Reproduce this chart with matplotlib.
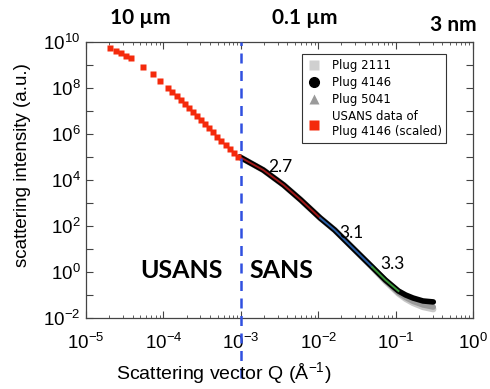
import matplotlib
matplotlib.use("Agg")
import matplotlib.pyplot as plt
from matplotlib.ticker import FixedLocator, LogLocator, FuncFormatter, NullFormatter
from matplotlib.lines import Line2D

plt.rcParams['font.family'] = ['Liberation Sans', 'DejaVu Sans']
plt.rcParams['mathtext.fontset'] = 'custom'
plt.rcParams['mathtext.rm'] = 'Liberation Sans'

# ---- data ----
usans_q = [2.07e-5, 2.41e-5, 2.80e-5, 3.26e-5, 3.79e-5, 5.46e-5, 7.38e-5, 9.14e-5,
           1.16e-4, 1.31e-4, 1.48e-4, 1.67e-4, 1.89e-4, 2.13e-4, 2.41e-4, 2.72e-4,
           3.07e-4, 3.46e-4, 3.91e-4, 4.42e-4, 4.98e-4, 5.62e-4, 6.35e-4, 7.16e-4,
           8.09e-4, 9.14e-4]
usans_i = [5.48e9, 4.06e9, 3.33e9, 2.46e9, 2.01e9, 8.18e8, 4.06e8, 2.01e8,
           1.0e8, 6.70e7, 4.49e7, 3.01e7, 2.01e7, 1.35e7, 9.06e6, 6.07e6,
           4.06e6, 2.72e6, 1.82e6, 1.22e6, 7.41e5, 4.97e5, 3.33e5, 2.23e5,
           1.49e5, 1.0e5]

sans_q = [9.7e-4, 1.95e-3, 3.57e-3, 5.97e-3, 1.06e-2, 1.63e-2, 2.56e-2, 4.98e-2,
          7.38e-2, 0.109, 0.135, 0.168, 0.226, 0.307]
plug4146_i = [1.0e5, 2.72e4, 6.07e3, 1.35e3, 223, 67, 14.9, 1.65,
              0.449, 0.149, 0.100, 0.074, 0.055, 0.050]
plug2111_i = [1.0e5, 2.72e4, 6.07e3, 1.35e3, 223, 67, 14.9, 1.60,
              0.40, 0.115, 0.068, 0.045, 0.030, 0.024]
plug5041_i = [1.0e5, 2.72e4, 6.07e3, 1.35e3, 223, 67, 14.9, 1.62,
              0.42, 0.125, 0.078, 0.053, 0.037, 0.030]

# power-law fit segments: (label, first index, last index)
fit_labels = ['2.7', '3.1', '3.3']
fit_start = [0, 4, 7]
fit_end = [4, 7, 9]
fit_colors = ['#a01818', '#2a60a8', '#3c9a3c']

legend_labels = ['Plug 2111', 'Plug 4146', 'Plug 5041', 'USANS data of\nPlug 4146 (scaled)']
top_labels = ['10 µm', '0.1 µm', '3 nm']

# ---- figure ----
W, H = 490, 389
fig = plt.figure(figsize=(W / 100, H / 100), dpi=100)
ax = fig.add_axes([86 / W, 1 - 318 / H, 387 / W, 276 / H])
ax.set_xscale('log')
ax.set_yscale('log')
ax.set_xlim(1e-5, 1e0)
ax.set_ylim(1e-2, 1e10)

ax.plot(sans_q, plug2111_i, color='#c8c8c8', lw=4.5, solid_capstyle='round', zorder=2)
ax.plot(sans_q, plug5041_i, color='#9a9a9a', lw=4.0, solid_capstyle='round', zorder=2.5)
ax.plot(sans_q, plug4146_i, color='black', lw=4.0, solid_capstyle='round', zorder=3)
for s, e, c in zip(fit_start, fit_end, fit_colors):
    ax.plot(sans_q[s:e + 1], plug4146_i[s:e + 1], color=c, lw=1.4, zorder=4)
ax.plot(usans_q, usans_i, 's', color='#f42a0c', ms=4.2, mec='none', zorder=5)

ax.axvline(1e-3, ymin=-0.217, ymax=1.0, color='#3050e0', lw=1.8,
           dashes=(4, 3), clip_on=False, zorder=6)

# annotations of slopes
ann_xy = [(280, 167), (351, 233), (392, 264)]
for lab, (px, py) in zip(fit_labels, ann_xy):
    fig.text(px / W, 1 - py / H, lab, family='Lato', fontsize=12.5,
             ha='center', va='center')

fig.text(181 / W, 1 - 271 / H, 'USANS', family='Lato', weight='bold', fontsize=18,
         ha='center', va='center')
fig.text(281 / W, 1 - 271 / H, 'SANS', family='Lato', weight='bold', fontsize=18,
         ha='center', va='center')

top_pos = [(140, 24), (305, 24), (453, 31)]
for lab, (px, py) in zip(top_labels, top_pos):
    fig.text(px / W, 1 - py / H, lab, family='Lato', weight='bold', fontsize=15,
             ha='center', va='baseline')

# ticks
ax.xaxis.set_major_locator(LogLocator(base=10, numticks=10))
ax.xaxis.set_minor_locator(LogLocator(base=10, subs=range(2, 10), numticks=20))
ax.xaxis.set_minor_formatter(NullFormatter())
ax.yaxis.set_major_locator(FixedLocator([10.0 ** k for k in range(-2, 11)]))
ax.yaxis.set_minor_locator(FixedLocator([]))


def yfmt(v, pos):
    import math
    k = int(round(math.log10(v)))
    return r'$\mathdefault{10^{%d}}$' % k if k % 2 == 0 else ''


def xfmt(v, pos):
    import math
    k = int(round(math.log10(v)))
    return r'$\mathdefault{10^{%d}}$' % k


ax.yaxis.set_major_formatter(FuncFormatter(yfmt))
ax.xaxis.set_major_formatter(FuncFormatter(xfmt))
ax.tick_params(which='both', direction='in', top=True, right=True, color='#444444')
ax.tick_params(which='major', length=5, width=0.8)
ax.tick_params(which='minor', length=2.5, width=0.6)
ax.tick_params(axis='x', which='major', labelsize=13.5, pad=11)
ax.tick_params(axis='y', which='major', labelsize=13.5, pad=4)
for sp in ax.spines.values():
    sp.set_color('#444444')
    sp.set_linewidth(0.9)

fig.text(224 / W, 1 - 374 / H, r'Scattering vector Q (Å$^{\mathdefault{-1}}$)',
         fontsize=14, ha='center', va='center')
fig.text(23 / W, 1 - 165 / H, 'scattering intensity (a.u.)', fontsize=13.5,
         rotation=90, ha='center', va='center')

handles = [
    Line2D([], [], ls='none', marker='s', color='#d0d0d0', mec='none', ms=7),
    Line2D([], [], ls='none', marker='o', color='black', ms=7),
    Line2D([], [], ls='none', marker='^', color='#9a9a9a', mec='none', ms=7),
    Line2D([], [], ls='none', marker='s', color='#f42a0c', mec='none', ms=7),
]
leg = ax.legend(handles, legend_labels, loc='upper left',
                bbox_to_anchor=((302 - 86) / 387, (318 - 54) / 276),
                prop={'family': 'DejaVu Sans', 'size': 8.5}, frameon=True,
                fancybox=False, edgecolor='#333333', framealpha=1,
                handlelength=1.2, handletextpad=0.9, labelspacing=0.35,
                borderpad=0.4, borderaxespad=0)
leg.get_frame().set_linewidth(0.8)

fig.savefig('out.png', dpi=100)
